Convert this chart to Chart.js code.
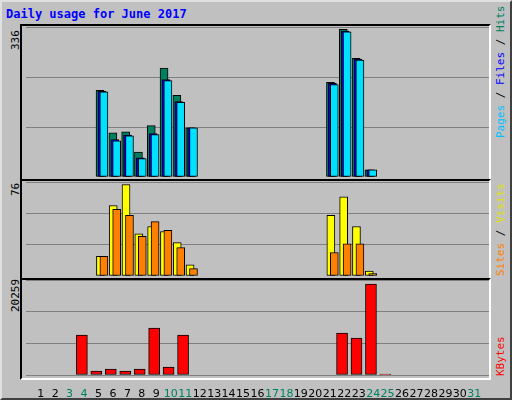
<!DOCTYPE html>
<html><head><meta charset="utf-8">
<script src="https://cdn.jsdelivr.net/npm/chart.js@4"></script>
<style>
body{margin:0;width:512px;height:400px;overflow:hidden;background:#fff}
#frame{position:absolute;left:0;top:0;width:508px;height:396px;background:#c0c0c0;border:2px solid;border-color:#e0e0e0 #404040 #404040 #e0e0e0}
.panel{position:absolute;left:20px;width:471px;border-style:solid;border-width:2px;border-color:#000 #fff #fff #000;box-sizing:border-box}
.t{position:absolute;font-family:"DejaVu Sans Mono",monospace;font-size:11px;white-space:nowrap}
.rot{transform-origin:0 0;transform:rotate(-90deg)}
canvas{position:absolute}
</style></head><body>
<div id="frame"></div>
<div class="t" style="left:6px;top:7px;color:#0000ff;font-weight:bold;font-size:12px">Daily usage for June 2017</div>
<div class="panel" style="top:24px;height:157px"></div>
<div class="panel" style="top:179px;height:101px"></div>
<div class="panel" style="top:278px;height:102px"></div>
<div class="t rot" style="left:9px;top:50px">336</div>
<div class="t rot" style="left:9px;top:196px">76</div>
<div class="t rot" style="left:9px;top:312px">20259</div>
<div class="t rot" style="left:494px;top:138px"><span style="color:#00c0ff">Pages</span> / <span style="color:#0000ff">Files</span> / <span style="color:#008060">Hits</span></div>
<div class="t rot" style="left:494px;top:276px"><span style="color:#ff8000">Sites</span> / <span style="color:#e0e000">Visits</span></div>
<div class="t rot" style="left:494px;top:376px;color:#ff0000">KBytes</div>
<canvas id="c1" style="left:26px;top:27px;width:463px;height:150px"></canvas>
<canvas id="c2" style="left:26px;top:182px;width:463px;height:94px"></canvas>
<canvas id="c3" style="left:26px;top:280px;width:463px;height:117px"></canvas>
<script>
const days=[4,5,6,7,8,9,10,11,22,23,24,25];
const hits=[194,99,101,56,115,244,183,110,212,331,266,16];
const files=[192,84,94,43,97,218,169,110,210,327,264,16];
const pages=[191,81,92,41,95,216,167,110,207,325,262,16];
const visits=[16,57,74,34,40,36,27,9,49,64,40,4];
const sites=[16,54,49,32,44,37,23,6,19,26,26,2];
const kbytes=[8530,850,1280,850,1280,10020,1700,8530,8950,7890,19400,200];
const dayLabels=Array.from({length:31},(_,i)=>i+1);
const weekend=[3,4,10,11,17,18,24,25,31];
const maxTop=336,maxMid=76,maxKB=20259;
Chart.defaults.animation=false;
Chart.defaults.devicePixelRatio=1;
function ds(vals,off,color,w,ord){return{data:days.map((d,i)=>({x:d+off,y:vals[i]})),backgroundColor:color,borderColor:'#000',borderWidth:1,barThickness:w,grouped:false,borderSkipped:false,order:ord};}
function mk(id,sets,max,xaxis){
 const x={type:'linear',min:0.5,max:31.5,display:xaxis,grid:{display:false},border:{display:false}};
 if(xaxis){
  x.afterFit=s=>{s.height=22};
  x.afterBuildTicks=s=>{s.ticks=dayLabels.map(v=>({value:v}))};
  x.ticks={autoSkip:false,maxRotation:0,padding:5,font:{family:'DejaVu Sans',size:11},
     color:c=>weekend.includes(c.tick.value)?'#008060':'#000',
     callback:v=>String(v)};
 }
 return new Chart(document.getElementById(id),{type:'bar',data:{datasets:sets},
 options:{responsive:false,maintainAspectRatio:false,layout:{padding:0},plugins:{legend:{display:false},tooltip:{enabled:false}},
 scales:{x:x,
  y:{min:0,max:max,display:true,ticks:{display:false,stepSize:max/3},border:{display:false},grid:{color:'#808080',lineWidth:1,drawTicks:false}}}}});
}
for(const id of['c1','c2','c3']){const c=document.getElementById(id);c.width=parseInt(c.style.width);c.height=parseInt(c.style.height);}
mk('c1',[ds(hits,-0.3,'#008060',8,3),ds(files,-0.15,'#0000ff',8,2),ds(pages,0,'#00e0ff',8,1)],maxTop,false);
mk('c2',[ds(visits,-0.27,'#ffff00',8,2),ds(sites,0,'#ff8000',8,1)],maxMid,false);
mk('c3',[ds(kbytes,-0.15,'#ff0000',11,1)],maxKB,true);
</script></body></html>
